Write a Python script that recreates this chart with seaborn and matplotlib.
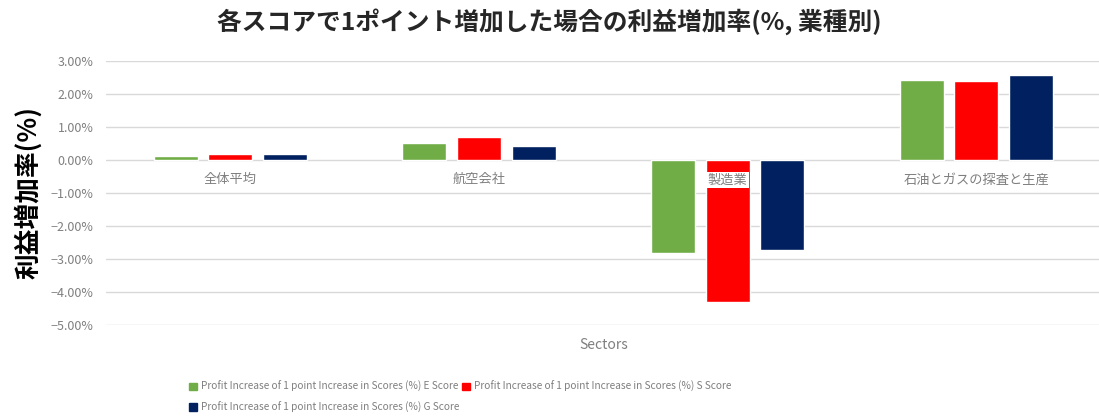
import numpy as np
import pandas as pd
import seaborn as sns
import matplotlib.pyplot as plt
from matplotlib.ticker import PercentFormatter

# data (percent)
sectors = ['全体平均', '航空会社', '製造業', '石油とガスの探査と生産']
e_score = [0.12, 0.52, -2.81, 2.42]
s_score = [0.17, 0.71, -4.29, 2.40]
g_score = [0.17, 0.42, -2.72, 2.57]
series_names = [
    'Profit Increase of 1 point Increase in Scores (%) E Score',
    'Profit Increase of 1 point Increase in Scores (%) S Score',
    'Profit Increase of 1 point Increase in Scores (%) G Score',
]
colors = ['#70AD47', '#FF0000', '#002060']

df = pd.DataFrame({'sector': sectors, series_names[0]: e_score,
                   series_names[1]: s_score, series_names[2]: g_score})
df = df.melt(id_vars='sector', var_name='series', value_name='value')

sns.set_theme(style='whitegrid')
plt.rcParams['font.family'] = ['Noto Sans CJK JP', 'DejaVu Sans']
GRAY = '#7F7F7F'

fig = plt.figure(figsize=(10.99, 4.2), dpi=100)
ax = fig.add_axes([0.0965, 0.226, 0.905, 0.629])

sns.barplot(ax=ax, data=df, x='sector', y='value', hue='series',
            hue_order=series_names, palette=colors, order=sectors,
            width=0.66, gap=0.2, saturation=1, legend=False)

ax.set_ylim(-5, 3)
ax.set_yticks(np.arange(-5, 3.01, 1))
ax.yaxis.set_major_formatter(PercentFormatter(decimals=2))
ax.tick_params(axis='y', labelsize=9, labelcolor=GRAY, length=0, pad=9)
ax.set_xticks(range(len(sectors)))
ax.set_xticklabels([])
ax.tick_params(axis='x', length=0)
ax.grid(axis='y', color='#D9D9D9', linewidth=1)
ax.grid(axis='x', visible=False)
for s in ax.spines.values():
    s.set_visible(False)

# category labels sit just under the zero line
for i, name in enumerate(sectors):
    ax.annotate(name, (i, 0), xytext=(0, -19), textcoords='offset points',
                ha='center', va='bottom', fontsize=9.5, color=GRAY, zorder=5,
                bbox=dict(boxstyle='square,pad=0.1', fc='white', ec='none'))

ax.set_xlabel('Sectors', fontsize=10, color=GRAY, labelpad=6)
ax.set_ylabel('利益増加率(%)', fontsize=18.5, fontweight='bold', color='black', labelpad=6)
fig.suptitle('各スコアで1ポイント増加した場合の利益増加率(%, 業種別)',
             fontsize=17.8, fontweight='bold', y=0.98)

# legend: E, S on first row, G on second
handles = [plt.Rectangle((0, 0), 1, 1, color=c) for c in colors]
order = [0, 2, 1]
leg = fig.legend([handles[i] for i in order], [series_names[i] for i in order],
                 ncol=2, loc='lower left', bbox_to_anchor=(0.164, -0.004),
                 frameon=False, handlelength=0.75, handleheight=0.75,
                 handletextpad=0.35, columnspacing=0.35, labelspacing=0.95,
                 prop={'family': ['Noto Sans CJK JP', 'DejaVu Sans'], 'size': 7.3})
for t in leg.get_texts():
    t.set_color(GRAY)

fig.savefig('out.png', dpi=100)
